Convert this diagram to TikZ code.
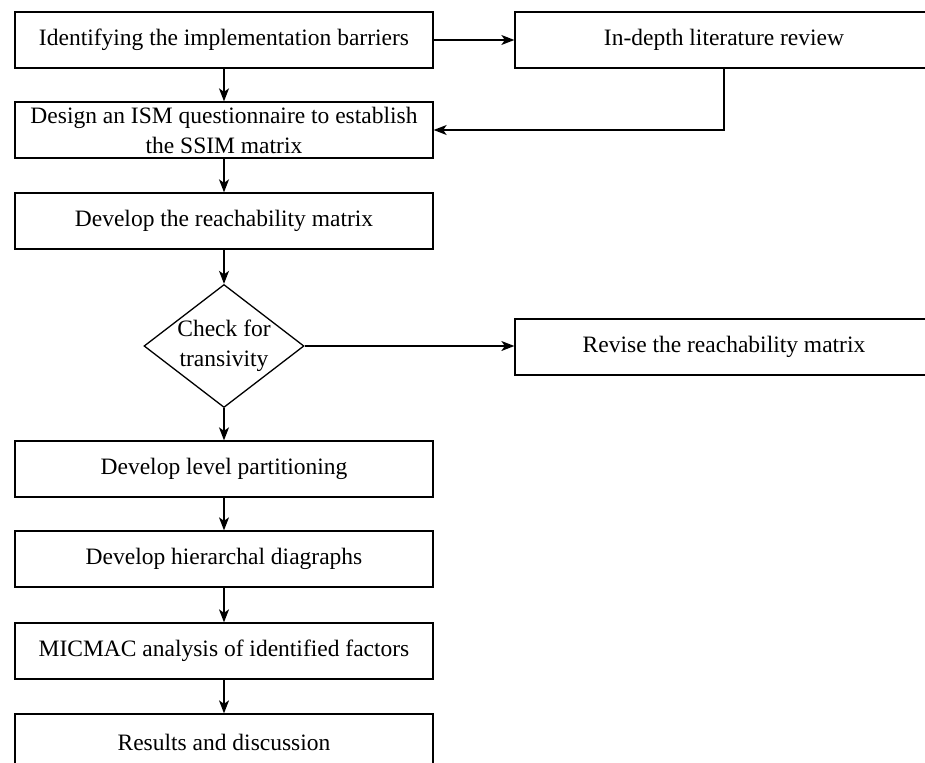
\documentclass[tikz,border=0pt]{standalone}
\usepackage{fontspec}
\setmainfont{Liberation Serif}
\usetikzlibrary{shapes.geometric,arrows.meta}
\begin{document}
\begin{tikzpicture}[x=1pt,y=-1pt,
  every node/.style={font=\fontsize{23.5}{30}\selectfont},
  procbox/.style={draw,line width=1.3pt,minimum width=418pt,minimum height=56pt,inner sep=0pt,align=center},
  decision/.style={draw,diamond,line width=1.3pt,minimum width=160pt,minimum height=123pt,inner sep=0pt},
  flow/.style={line width=1.3pt,-{Stealth[length=13pt,width=10pt,inset=3.5pt]}}]
  \useasboundingbox (0,0) rectangle (925,762);
  \begin{scope}
  \clip (0,0) rectangle (925,762);
  \node[procbox] (ident) at (224,40) {Identifying the implementation barriers};
  \node[procbox] (lit) at (724,40) {In-depth literature review};
  \node[procbox] (ssim) at (224,130) {Design an ISM questionnaire to establish\\the SSIM matrix};
  \node[procbox] (reach) at (224,221) {Develop the reachability matrix};
  \node[decision] (check) at (224,346) {};
  \node[align=center,inner sep=0pt] (checktext) at (check.center) {Check for\\transivity};
  \node[procbox] (revise) at (724,347) {Revise the reachability matrix};
  \node[procbox] (level) at (224,469) {Develop level partitioning};
  \node[procbox] (hier) at (224,559) {Develop hierarchal diagraphs};
  \node[procbox] (micmac) at (224,651) {MICMAC analysis of identified factors};
  \node[procbox] (results) at (224,742) {Results and discussion};

  \draw[flow] (ident) -- (lit);
  \draw[flow] (lit.south) |- (ssim.east);
  \draw[flow] (ident) -- (ssim);
  \draw[flow] (ssim) -- (reach);
  \draw[flow] (reach.south) -- (check.north);
  \draw[flow] (check.east) -- (check.east -| revise.west);
  \draw[flow] (check.south) -- (level.north);
  \draw[flow] (level) -- (hier);
  \draw[flow] (hier) -- (micmac);
  \draw[flow] (micmac) -- (results);
  \end{scope}
\end{tikzpicture}
\end{document}
